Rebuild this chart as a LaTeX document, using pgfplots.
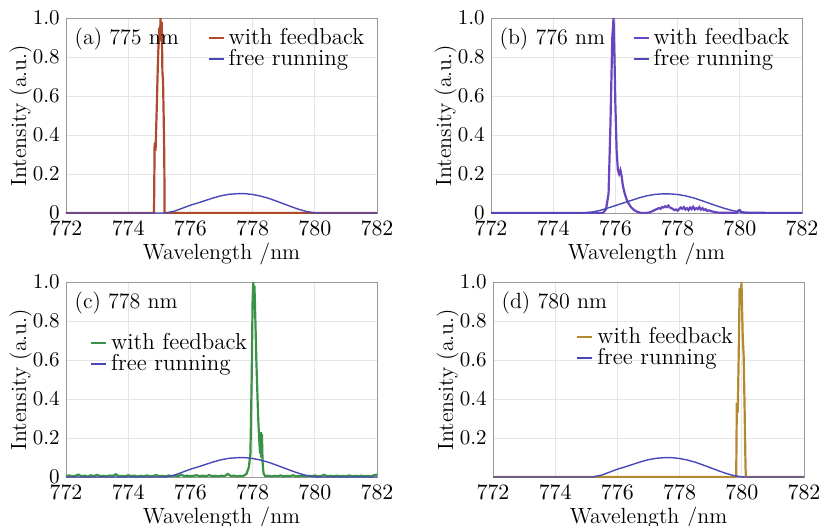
\documentclass[border=0pt]{standalone}
\usepackage{pgfplots}
\usepackage{pgfplotstable}
\pgfplotsset{compat=1.18}
\definecolor{fbred}{HTML}{B04A2C}
\definecolor{fbpurple}{HTML}{6A45C0}
\definecolor{fbgreen}{HTML}{3A9248}
\definecolor{fbgold}{HTML}{B5892F}
\definecolor{freeblue}{HTML}{4848B8}

% free running spectrum (same laser in a, c, d)
\pgfplotstableread{
x y
772 0
775.2 0
775.5 0.010
775.75 0.025
776.0 0.040
776.25 0.052
776.5 0.065
776.75 0.078
777.0 0.089
777.25 0.096
777.5 0.099
777.75 0.099
778.0 0.095
778.25 0.087
778.5 0.076
778.75 0.062
779.0 0.047
779.25 0.032
779.5 0.018
779.75 0.007
780.0 0.001
780.1 0
782 0
}\freerun

\pgfplotstableread{
x y
772 0
774.9 0
775.25 0.005
775.5 0.013
775.75 0.025
776.0 0.038
776.25 0.051
776.5 0.064
776.75 0.077
777.0 0.088
777.25 0.095
777.5 0.098
777.75 0.098
778.0 0.095
778.25 0.088
778.5 0.078
778.75 0.065
779.0 0.051
779.25 0.037
779.5 0.024
779.75 0.013
780.0 0.006
780.25 0.002
780.5 0
782 0
}\freerunb

\pgfplotsset{
  spec/.style={
    scale only axis, width=155.5pt, height=97.5pt,
    xmin=772, xmax=782, ymin=0, ymax=1,
    xtick={772,774,776,778,780,782},
    ytick={0,0.2,0.4,0.6,0.8,1}, yticklabels={0,0.2,0.4,0.6,0.8,1.0},
    xlabel={Wavelength /nm}, ylabel={Intensity (a.u.)},
    grid=major, major grid style={black!10},
    axis line style={black!40}, tick style={draw=none},
    tick label style={font=\fontsize{10.5}{12}\selectfont, inner sep=1pt},
    xticklabel style={yshift=-3pt},
    yticklabel style={xshift=-2pt},
    label style={font=\fontsize{11}{12}\selectfont},
    xlabel style={yshift=1pt},
    ylabel style={yshift=-4pt},
    legend cell align=left,
    legend image code/.code={\draw[##1] (0cm,0cm) -- (0.26cm,0cm);},
    legend style={draw=none, fill=none, font=\fontsize{11.5}{12.5}\selectfont,
      row sep=-3pt, inner sep=1pt, at={(0.98,0.98)}, anchor=north east},
  },
  fb/.style={line width=1.1pt},
  fr/.style={freeblue, line width=0.7pt},
}

\begin{document}
\begin{tikzpicture}
\useasboundingbox (0,0) rectangle (412pt,262.5pt);

% (a)
\begin{axis}[spec, at={(33pt,156pt)}, anchor=south west]
\addplot[fb, fbred] coordinates {(772,0) (774.83,0) (774.85,0.36) (774.88,0.32) (774.92,0.55) (774.96,0.8) (775.0,0.95) (775.02,0.88) (775.04,1.0) (775.06,0.9) (775.08,0.98) (775.1,0.72) (775.12,0.68) (775.14,0.5) (775.16,0.3) (775.17,0) (782,0)};
\addplot[fr] table {\freerun};
\legend{with feedback, free running}
\node[anchor=north west, font=\fontsize{11}{12}\selectfont] at (rel axis cs:0.005,0.985) {(a) 775 nm};
\end{axis}

% (b)
\begin{axis}[spec, at={(245.5pt,156pt)}, anchor=south west]
\addplot[fb, fbpurple] coordinates {(772,0) (775.6,0) (775.7,0.02) (775.78,0.1) (775.84,0.45) (775.9,0.9) (775.94,1.0) (775.97,0.8) (776.0,0.55) (776.04,0.32) (776.08,0.22) (776.12,0.2) (776.16,0.22) (776.2,0.19) (776.24,0.14) (776.3,0.1) (776.36,0.07) (776.42,0.05) (776.5,0.03) (776.6,0.015) (776.7,0.006) (776.8,0.001) (777.0,0) (777.1,0.003) (777.2,0.01) (777.3,0.018) (777.4,0.025) (777.45,0.022) (777.5,0.03) (777.55,0.028) (777.6,0.035) (777.65,0.03) (777.7,0.038) (777.75,0.028) (777.8,0.025) (777.85,0.02) (777.9,0.015) (777.95,0.018) (778.0,0.012) (778.05,0.02) (778.1,0.028) (778.15,0.022) (778.2,0.03) (778.25,0.018) (778.3,0.025) (778.35,0.015) (778.4,0.028) (778.45,0.02) (778.5,0.032) (778.55,0.018) (778.6,0.025) (778.65,0.02) (778.7,0.03) (778.75,0.017) (778.8,0.025) (778.85,0.015) (778.9,0.02) (778.95,0.01) (779.0,0.014) (779.1,0.008) (779.2,0.005) (779.3,0.002) (779.5,0.001) (779.9,0.001) (779.95,0.012) (780.0,0.015) (780.05,0.004) (780.2,0.001) (780.5,0.002) (781,0) (782,0)};
\addplot[fr] table {\freerunb};
\legend{with feedback, free running}
\node[anchor=north west, font=\fontsize{11}{12}\selectfont] at (rel axis cs:0.005,0.985) {(b) 776 nm};
\end{axis}

% (c)
\begin{axis}[spec, at={(33pt,24pt)}, anchor=south west,
  legend style={at={(0.07,0.77)}, anchor=north west}]
\addplot[fb, fbgreen] coordinates {(772,0.004) (772.1,0.008) (772.2,0.003) (772.3,0.006) (772.4,0.012) (772.5,0.004) (772.6,0.007) (772.7,0.002) (772.8,0.009) (772.9,0.005) (773.0,0.011) (773.1,0.004) (773.2,0.006) (773.3,0.003) (773.4,0.008) (773.5,0.005) (773.6,0.014) (773.7,0.004) (773.8,0.006) (773.9,0.003) (774.0,0.009) (774.1,0.005) (774.2,0.007) (774.3,0.002) (774.4,0.006) (774.5,0.004) (774.6,0.008) (774.7,0.003) (774.8,0.005) (774.9,0.01) (775.0,0.004) (775.1,0.006) (775.2,0.003) (775.3,0.008) (775.4,0.004) (775.5,0.007) (775.6,0.003) (775.7,0.012) (775.8,0.005) (775.9,0.007) (776.0,0.003) (776.1,0.006) (776.2,0.009) (776.3,0.004) (776.4,0.007) (776.5,0.003) (776.6,0.01) (776.7,0.004) (776.8,0.006) (776.9,0.003) (777.0,0.007) (777.1,0.004) (777.2,0.016) (777.3,0.005) (777.4,0.007) (777.5,0.003) (777.6,0.006) (777.7,0.005) (777.8,0.015) (777.88,0.05) (777.93,0.12) (777.97,0.5) (778.0,0.9) (778.02,1.0) (778.04,0.95) (778.06,0.98) (778.09,0.8) (778.12,0.6) (778.15,0.45) (778.18,0.3) (778.21,0.2) (778.24,0.12) (778.26,0.23) (778.28,0.1) (778.3,0.22) (778.32,0.08) (778.35,0.02) (778.4,0.005) (778.5,0.007) (778.6,0.003) (778.7,0.006) (778.8,0.004) (778.9,0.008) (779.0,0.003) (779.1,0.006) (779.2,0.004) (779.3,0.009) (779.4,0.003) (779.5,0.005) (779.6,0.007) (779.7,0.003) (779.8,0.006) (779.9,0.004) (780.0,0.008) (780.1,0.003) (780.2,0.005) (780.3,0.011) (780.4,0.004) (780.5,0.006) (780.6,0.003) (780.7,0.007) (780.8,0.004) (780.9,0.006) (781.0,0.003) (781.1,0.008) (781.2,0.004) (781.3,0.006) (781.4,0.003) (781.5,0.007) (781.6,0.004) (781.7,0.005) (781.8,0.003) (781.9,0.009) (782.0,0.012)};
\addplot[fr] table {\freerun};
\legend{with feedback, free running}
\node[anchor=north west, font=\fontsize{11}{12}\selectfont] at (rel axis cs:0.005,0.985) {(c) 778 nm};
\end{axis}

% (d)
\begin{axis}[spec, at={(246.5pt,24pt)}, anchor=south west,
  ytick={0.2,0.4,0.6,0.8,1}, yticklabels={0.2,0.4,0.6,0.8,1.0},
  legend style={at={(0.26,0.80)}, anchor=north west}]
\addplot[fb, fbgold] coordinates {(772,0) (779.82,0) (779.84,0.38) (779.87,0.33) (779.9,0.62) (779.93,0.97) (779.96,0.9) (779.99,1.0) (780.01,0.85) (780.03,0.72) (780.06,0.62) (780.09,0.35) (780.12,0.05) (780.13,0) (782,0)};
\addplot[fr] table {\freerun};
\legend{with feedback, free running}
\node[anchor=north west, font=\fontsize{11}{12}\selectfont] at (rel axis cs:0.005,0.985) {(d) 780 nm};
\end{axis}
\end{tikzpicture}
\end{document}
